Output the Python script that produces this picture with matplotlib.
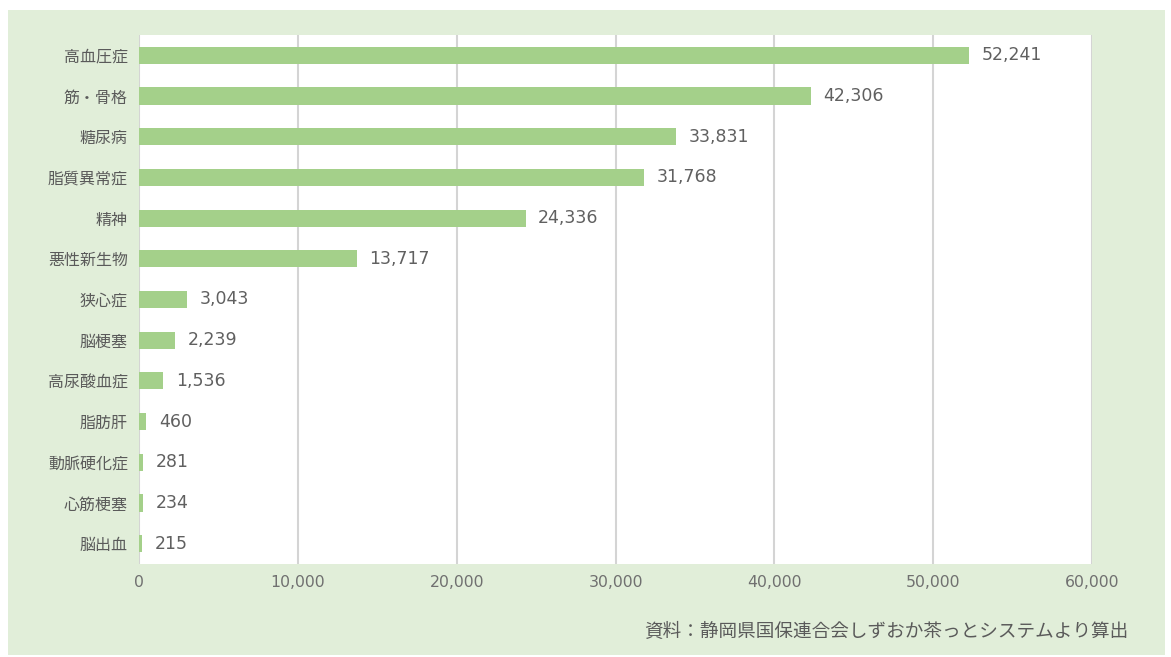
import numpy as np
import matplotlib
matplotlib.use('Agg')
from matplotlib import pyplot as plt
from matplotlib.patches import Rectangle
from matplotlib.ticker import FuncFormatter

plt.rcParams['font.family'] = ['Noto Sans CJK JP', 'DejaVu Sans']

'''data'''
diseases = ['高血圧症', '筋・骨格', '糖尿病', '脂質異常症', '精神', '悪性新生物', '狭心症',
            '脳梗塞', '高尿酸血症', '脂肪肝', '動脈硬化症', '心筋梗塞', '脳出血']
counts = [52241, 42306, 33831, 31768, 24336, 13717, 3043, 2239, 1536, 460, 281, 234, 215]
xticks = [0, 10000, 20000, 30000, 40000, 50000, 60000]
source = '資料：静岡県国保連合会しずおか茶っとシステムより算出'

W, H = 1171, 657
fig = plt.figure(figsize=(W / 100, H / 100), dpi=100)
fig.patch.set_facecolor('white')
fig.patches.append(Rectangle((8 / W, 1 - 655 / H), (1165 - 8) / W, (655 - 10) / H,
                             transform=fig.transFigure, facecolor='#e1eed9',
                             edgecolor='none', zorder=-1))

ax = fig.add_axes([139 / W, 1 - 564 / H, (1092 - 139) / W, (564 - 35) / H])
ax.set_zorder(1)
ax.set_facecolor('white')

y = np.arange(len(diseases))
ax.barh(y, counts, height=0.42, color='#a4d08a', zorder=3)
for yi, v in zip(y, counts):
    ax.text(v + 800, yi, f'{v:,}', va='center', ha='left', fontsize=12.5,
            family='DejaVu Sans', color='#606060', zorder=4)

ax.set_ylim(len(diseases) - 0.5, -0.5)
ax.set_xlim(0, 60000)
ax.set_yticks(y)
ax.set_yticklabels(diseases, fontsize=11.5, color='#5a5a5a')
ax.set_xticks(xticks)
ax.xaxis.set_major_formatter(FuncFormatter(lambda v, p: f'{int(v):,}'))
ax.tick_params(axis='x', labelsize=11.3, colors='#707070', length=0, pad=8)
ax.tick_params(axis='y', length=0, pad=8)
for lbl in ax.get_xticklabels():
    lbl.set_family('DejaVu Sans')
ax.grid(axis='x', color='#d4d4d4', linewidth=1.5, zorder=1)
for s in ax.spines.values():
    s.set_visible(False)

fig.text(1128 / W, 1 - 632 / H, source, ha='right', va='center', fontsize=13.4,
         color='#5a5a5a', zorder=2)

fig.savefig('out.png', dpi=100)
